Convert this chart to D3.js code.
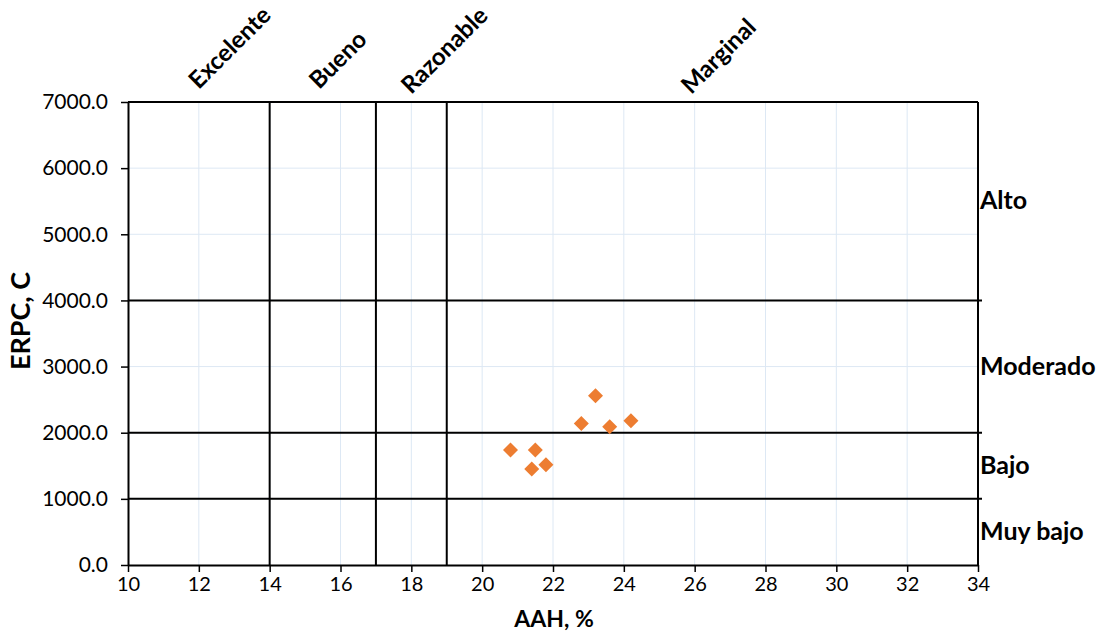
<!DOCTYPE html>
<html><head><meta charset="utf-8">
<script src="https://cdn.jsdelivr.net/npm/d3@7"></script>
<style>body{margin:0;background:#fff}svg{display:block}text{font-family:Lato,"Open Sans",sans-serif}</style>
</head><body><svg id="c" width="1101" height="634"></svg>
<script>
const aah = [20.8, 21.5, 21.4, 21.8, 22.8, 23.2, 23.6, 24.2];
const erpc = [1740, 1740, 1450, 1515, 2140, 2560, 2090, 2180];
const xTicks = [10,12,14,16,18,20,22,24,26,28,30,32,34];
const yTicks = [0,1000,2000,3000,4000,5000,6000,7000];
const xLimits = [14, 17, 19];
const yLimits = [1000, 2000, 4000];
const topLabels = ["Excelente","Bueno","Razonable","Marginal"];
const topLabelAt = [12.0, 15.4, 18.0, 25.9];
const rightLabels = ["Alto","Moderado","Bajo","Muy bajo"];
const rightLabelAt = [5500, 3000, 1500, 500];

const svg = d3.select("#c");
const L=128,R=978,T=102,B=565;
const x = d3.scaleLinear().domain([10,34]).range([L,R]);
const y = d3.scaleLinear().domain([0,7000]).range([B,T]);
const grid = "#dde8f4";
svg.append("g").selectAll("line").data(xTicks.slice(1,-1)).join("line")
  .attr("x1",d=>x(d)).attr("x2",d=>x(d)).attr("y1",T).attr("y2",B).attr("stroke",grid).attr("stroke-width",1);
svg.append("g").selectAll("line").data(yTicks.slice(1,-1)).join("line")
  .attr("x1",L).attr("x2",R).attr("y1",d=>y(d)).attr("y2",d=>y(d)).attr("stroke",grid).attr("stroke-width",1);

svg.append("g").selectAll("line").data(xLimits).join("line")
  .attr("x1",d=>x(d)).attr("x2",d=>x(d)).attr("y1",T).attr("y2",B).attr("stroke","#000").attr("stroke-width",2);
svg.append("g").selectAll("line").data(yLimits).join("line")
  .attr("x1",L).attr("x2",R+4).attr("y1",d=>y(d)).attr("y2",d=>y(d)).attr("stroke","#000").attr("stroke-width",2);
svg.append("line").attr("x1",L).attr("x2",R).attr("y1",T).attr("y2",T).attr("stroke","#000").attr("stroke-width",2);
svg.append("line").attr("x1",R).attr("x2",R).attr("y1",T).attr("y2",B).attr("stroke","#000").attr("stroke-width",2);

const xa = svg.append("g").attr("transform",`translate(0,${B})`)
  .call(d3.axisBottom(x).tickValues(xTicks).tickSize(7).tickSizeOuter(0).tickPadding(4).tickFormat(d3.format("d")));
const ya = svg.append("g").attr("transform",`translate(${L},0)`)
  .call(d3.axisLeft(y).tickValues(yTicks).tickSize(7).tickSizeOuter(0).tickPadding(13).tickFormat(d3.format(".1f")));
[xa,ya].forEach(a=>{a.select(".domain").attr("stroke","#000").attr("stroke-width",2);
  a.selectAll(".tick line").attr("stroke","#000").attr("stroke-width",1.5);
  a.selectAll("text").attr("fill","#000").style("font-family","Lato, sans-serif");});
ya.selectAll("text").style("font-size","21px");
xa.selectAll("text").style("font-size","20px").attr("dy","0.75em");

svg.append("text").attr("x",554).attr("y",627).attr("text-anchor","middle").style("font-weight","bold").style("font-size","23px").text("AAH, %");
svg.append("text").attr("transform","translate(30,321) rotate(-90)").attr("text-anchor","middle").style("font-weight","bold").style("font-size","27px").text("ERPC, C");

svg.append("g").selectAll("text").data(topLabels).join("text")
  .attr("transform",(d,i)=>`translate(${x(topLabelAt[i])},${T-12+(i>1?5:0)}) rotate(-45)`)
  .style("font-weight","bold").style("font-size","24px").text(d=>d);
svg.append("g").selectAll("text").data(rightLabels).join("text")
  .attr("x",R+2).attr("y",(d,i)=>y(rightLabelAt[i])+8)
  .style("font-weight","bold").style("font-size","25px").text(d=>d);

const s=7.5;
svg.append("g").selectAll("path").data(aah).join("path")
  .attr("d",`M0,${-s}L${s},0L0,${s}L${-s},0Z`)
  .attr("transform",(d,i)=>`translate(${x(d)},${y(erpc[i])})`)
  .attr("fill","#ed7d31");
</script></body></html>
